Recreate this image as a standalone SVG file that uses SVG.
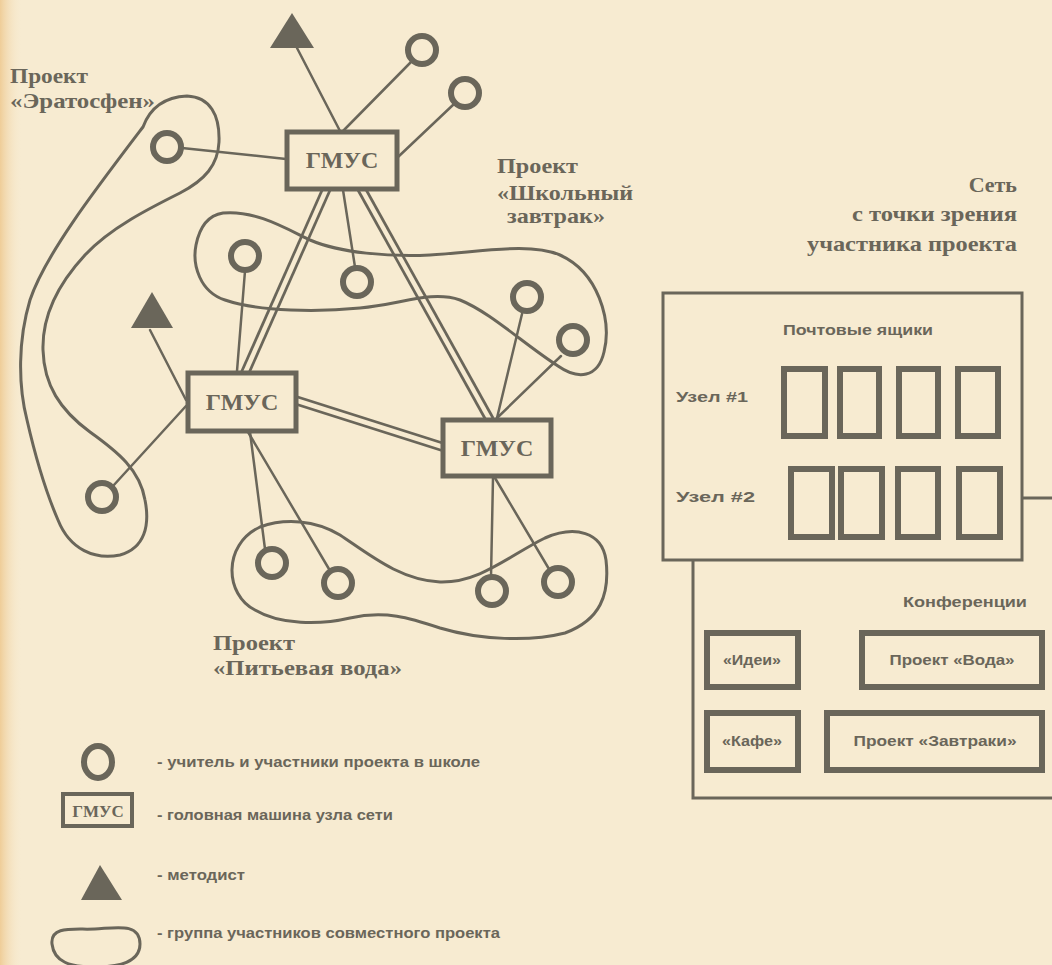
<svg xmlns="http://www.w3.org/2000/svg" width="1052" height="965" viewBox="0 0 1052 965">
<defs>
<linearGradient id="edge" x1="0" x2="1" y1="0" y2="0"><stop offset="0" stop-color="#efcd98"/><stop offset="1" stop-color="#f7ebd1" stop-opacity="0"/></linearGradient>
<style>
.bg{fill:#f7ebd1}
.ln{stroke:#6a665a;stroke-width:2.5;fill:none;stroke-linecap:round}
.dbo{stroke:#6a665a;stroke-width:10;fill:none}
.dbi{stroke:#f7ebd1;stroke-width:4.5;fill:none}
.blob{fill:none;stroke:#6a665a;stroke-width:3}
.pt{fill:none;stroke:#6a665a;stroke-width:6}
.tri{fill:#6a665a}
.box{fill:#f7ebd1;stroke:#6a665a;stroke-width:5}
.lbl{font-family:"Liberation Serif",serif;font-weight:bold;font-size:22px;fill:#6a665a}
.gm{font-family:"Liberation Serif",serif;font-weight:bold;font-size:24px;fill:#6a665a;text-anchor:middle}
.sm{font-family:"Liberation Sans",sans-serif;font-weight:bold;font-size:15px;fill:#6a665a}
.smc{font-family:"Liberation Sans",sans-serif;font-weight:bold;font-size:15px;fill:#6a665a;text-anchor:middle}
.panel{fill:#f7ebd1;stroke:#6a665a;stroke-width:3}
.mb{fill:none;stroke:#6a665a;stroke-width:6}
.cb{fill:none;stroke:#6a665a;stroke-width:6}
</style>
</defs>
<rect class="bg" x="0" y="0" width="1052" height="965"/>
<rect x="0" y="0" width="22" height="965" fill="url(#edge)"/>

<g id="connectors">
  <line class="ln" x1="340" y1="131" x2="297" y2="48"/>
  <line class="ln" x1="343" y1="131" x2="412" y2="61"/>
  <line class="ln" x1="398" y1="157" x2="454" y2="104"/>
  <line class="ln" x1="182" y1="148" x2="286" y2="159"/>
  <line class="ln" x1="343" y1="190" x2="355" y2="267"/>
  <line class="ln" x1="237" y1="371" x2="245" y2="271"/>
  <line class="ln" x1="186" y1="400" x2="150" y2="330"/>
  <line class="ln" x1="186" y1="406" x2="113" y2="486"/>
  <line class="ln" x1="250" y1="432" x2="265" y2="549"/>
  <line class="ln" x1="248" y1="432" x2="329" y2="569"/>
  <line class="ln" x1="497" y1="418" x2="522" y2="314"/>
  <line class="ln" x1="497" y1="418" x2="561" y2="356"/>
  <line class="ln" x1="493" y1="478" x2="491" y2="577"/>
  <line class="ln" x1="495" y1="478" x2="549" y2="569"/>
  <g id="double-links">
    <line class="dbo" x1="327" y1="188" x2="245" y2="373"/>
    <line class="dbo" x1="361" y1="188" x2="490" y2="420"/>
    <line class="dbo" x1="295" y1="400" x2="443" y2="447"/>
    <line class="dbi" x1="327" y1="188" x2="245" y2="373"/>
    <line class="dbi" x1="361" y1="188" x2="490" y2="420"/>
    <line class="dbi" x1="295" y1="400" x2="443" y2="447"/>
  </g>
</g>

<g id="group-eratosfen">
  <path class="blob" d="M143,127 C150,108 165,97 187,96 C210,97 220,115 219,142 C218,165 205,180 180,193 C150,208 110,228 85,255 C60,282 42,315 43,350 C44,385 60,410 90,432 C118,452 140,470 145,500 C150,525 145,548 120,555 C95,560 70,550 58,520 C45,490 35,455 27,420 C18,385 18,340 30,300 C45,255 95,190 143,127 Z"/>
  <text class="lbl" x="10" y="83" textLength="78" lengthAdjust="spacingAndGlyphs">Проект</text>
  <text class="lbl" x="10" y="108" textLength="145" lengthAdjust="spacingAndGlyphs">«Эратосфен»</text>
</g>
<g id="group-zavtrak">
  <path class="blob" d="M223,213 C255,210 285,228 310,240 C340,253 390,257 430,255 C480,252 530,242 560,255 C598,272 612,320 604,352 C598,378 578,380 558,366 C525,345 490,312 460,300 C430,290 400,305 360,308 C320,312 260,312 225,300 C200,292 192,265 196,245 C200,225 210,215 223,213 Z"/>
  <text class="lbl" x="497" y="173" textLength="81" lengthAdjust="spacingAndGlyphs">Проект</text>
  <text class="lbl" x="497" y="200" textLength="136" lengthAdjust="spacingAndGlyphs">«Школьный</text>
  <text class="lbl" x="507" y="223" textLength="98" lengthAdjust="spacingAndGlyphs">завтрак»</text>
</g>
<g id="group-voda">
  <path class="blob" d="M260,527 C285,518 315,520 340,535 C370,555 400,580 440,582 C480,583 510,555 545,538 C575,525 602,532 606,560 C610,595 600,620 565,633 C530,642 480,640 440,628 C410,618 385,610 350,618 C320,625 280,625 255,610 C225,595 222,545 260,527 Z"/>
  <text class="lbl" x="213" y="650" textLength="82" lengthAdjust="spacingAndGlyphs">Проект</text>
  <text class="lbl" x="213" y="675" textLength="189" lengthAdjust="spacingAndGlyphs">«Питьевая вода»</text>
</g>

<g id="gmus-top"><rect class="box" x="287" y="132" width="110" height="57"/><text class="gm" x="342" y="168">ГМУС</text></g>
<g id="gmus-left"><rect class="box" x="188" y="373" width="108" height="58"/><text class="gm" x="242" y="410">ГМУС</text></g>
<g id="gmus-right"><rect class="box" x="443" y="420" width="108" height="56"/><text class="gm" x="497" y="456">ГМУС</text></g>

<g id="metodist-top"><polygon class="tri" points="292,13 270,48 314,48"/></g>
<g id="metodist-left"><polygon class="tri" points="152,292 131,328 173,328"/></g>

<g id="schools">
  <circle id="s1" class="pt" cx="422" cy="50" r="14"/>
  <circle id="s2" class="pt" cx="465" cy="93" r="14"/>
  <circle id="s3" class="pt" cx="167" cy="147" r="14"/>
  <circle id="s4" class="pt" cx="245" cy="256" r="14"/>
  <circle id="s5" class="pt" cx="357" cy="282" r="14"/>
  <circle id="s6" class="pt" cx="527" cy="297" r="14"/>
  <circle id="s7" class="pt" cx="573" cy="340" r="14"/>
  <circle id="s8" class="pt" cx="102" cy="497" r="14"/>
  <circle id="s9" class="pt" cx="272" cy="563" r="14"/>
  <circle id="s10" class="pt" cx="338" cy="583" r="14"/>
  <circle id="s11" class="pt" cx="492" cy="591" r="14"/>
  <circle id="s12" class="pt" cx="558" cy="582" r="14"/>
</g>

<g id="title">
  <text class="lbl" x="1017" y="192" text-anchor="end">Сеть</text>
  <text class="lbl" x="1017" y="221" text-anchor="end" textLength="165" lengthAdjust="spacingAndGlyphs">с точки зрения</text>
  <text class="lbl" x="1017" y="251" text-anchor="end" textLength="210" lengthAdjust="spacingAndGlyphs">участника проекта</text>
</g>

<g id="conferences-panel">
  <rect class="panel" x="693" y="498" width="400" height="300"/>
  <text class="sm" x="903" y="607" textLength="124" lengthAdjust="spacingAndGlyphs">Конференции</text>
  <rect class="cb" x="707" y="633" width="91" height="54"/>
  <text class="smc" x="752" y="665" textLength="58" lengthAdjust="spacingAndGlyphs">«Идеи»</text>
  <rect class="cb" x="862" y="633" width="180" height="54"/>
  <text class="smc" x="952" y="665" textLength="125" lengthAdjust="spacingAndGlyphs">Проект «Вода»</text>
  <rect class="cb" x="707" y="713" width="91" height="57"/>
  <text class="smc" x="752" y="746" textLength="60" lengthAdjust="spacingAndGlyphs">«Кафе»</text>
  <rect class="cb" x="827" y="713" width="215" height="57"/>
  <text class="smc" x="935" y="746" textLength="163" lengthAdjust="spacingAndGlyphs">Проект «Завтраки»</text>
</g>

<g id="mailbox-panel">
  <rect class="panel" x="663" y="293" width="359" height="267"/>
  <text class="sm" x="783" y="335" textLength="150" lengthAdjust="spacingAndGlyphs">Почтовые ящики</text>
  <text class="sm" x="676" y="402" textLength="72" lengthAdjust="spacingAndGlyphs">Узел #1</text>
  <text class="sm" x="676" y="502" textLength="79" lengthAdjust="spacingAndGlyphs">Узел #2</text>
  <rect class="mb" x="784" y="369" width="41" height="67"/>
  <rect class="mb" x="840" y="369" width="39" height="67"/>
  <rect class="mb" x="899" y="369" width="39" height="67"/>
  <rect class="mb" x="958" y="369" width="40" height="67"/>
  <rect class="mb" x="791" y="469" width="41" height="68"/>
  <rect class="mb" x="841" y="469" width="41" height="68"/>
  <rect class="mb" x="898" y="469" width="40" height="68"/>
  <rect class="mb" x="959" y="469" width="41" height="68"/>
</g>

<g id="legend">
  <ellipse class="pt" cx="98" cy="762" rx="14" ry="16"/>
  <text class="sm" x="157" y="767" textLength="323" lengthAdjust="spacingAndGlyphs">- учитель и участники проекта в школе</text>
  <rect fill="#f7ebd1" stroke="#6a665a" stroke-width="4" x="63" y="794" width="69" height="32"/>
  <text class="gm" x="98" y="817" style="font-size:17px">ГМУС</text>
  <text class="sm" x="157" y="820" textLength="236" lengthAdjust="spacingAndGlyphs">- головная машина узла сети</text>
  <polygon class="tri" points="100,865 81,900 122,900"/>
  <text class="sm" x="157" y="880" textLength="88" lengthAdjust="spacingAndGlyphs">- методист</text>
  <path class="blob" d="M52,944 C50,925 75,930 95,929 C115,928 140,922 140,944 C140,962 120,967 95,967 C70,967 54,962 52,944 Z"/>
  <text class="sm" x="157" y="938" textLength="343" lengthAdjust="spacingAndGlyphs">- группа участников совместного проекта</text>
</g>
</svg>
